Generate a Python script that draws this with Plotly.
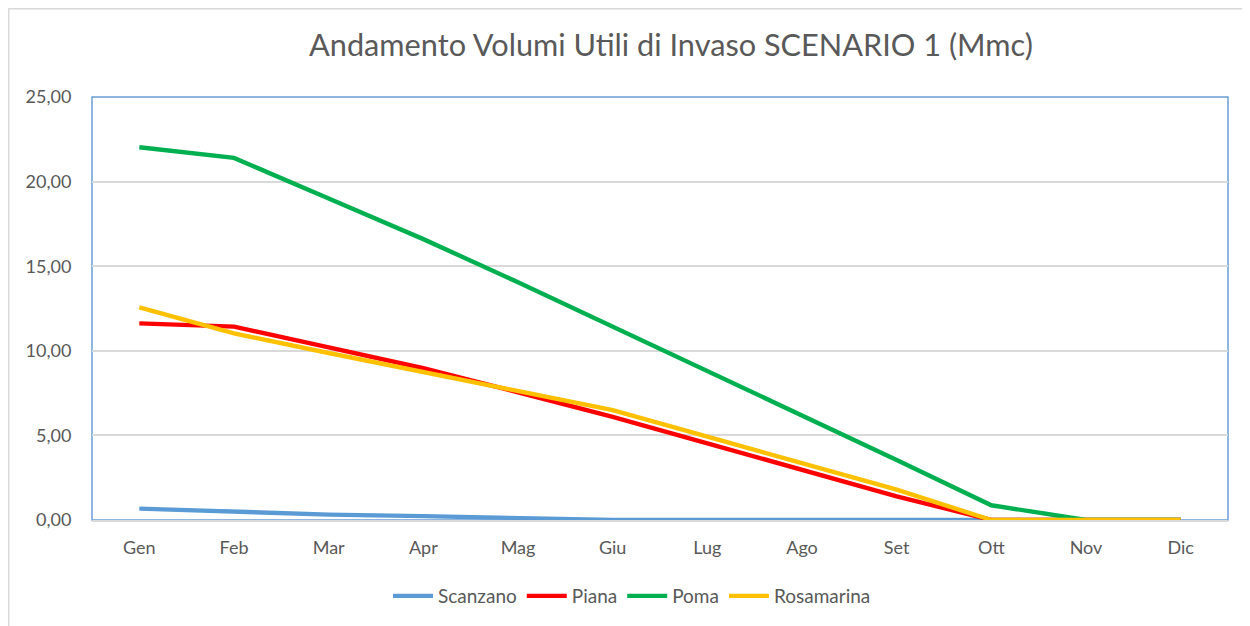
import plotly.graph_objects as go

months = ["Gen", "Feb", "Mar", "Apr", "Mag", "Giu", "Lug", "Ago", "Set", "Ott", "Nov", "Dic"]
scanzano = [0.67, 0.47, 0.32, 0.23, 0.10, 0.0, 0.0, 0.0, 0.0, 0.0, 0.0, 0.0]
piana = [11.62, 11.43, 10.2, 8.97, 7.55, 6.1, 4.53, 2.96, 1.40, 0.0, 0.0, 0.0]
poma = [22.03, 21.4, 19.0, 16.6, 14.05, 11.43, 8.78, 6.12, 3.55, 0.87, 0.0, 0.0]
rosamarina = [12.57, 11.03, 9.87, 8.75, 7.62, 6.5, 4.93, 3.36, 1.79, 0.0, 0.0, 0.0]
yticks = [0, 5, 10, 15, 20, 25]

series = [
    ("Scanzano", scanzano, "#5B9BD5"),
    ("Piana", piana, "#FF0000"),
    ("Poma", poma, "#00B050"),
    ("Rosamarina", rosamarina, "#FFC000"),
]

# page is offset by the browser's 8px body margin
W, H = 1242, 618
L, T, R, B = 84, 89, 22, 106
PW = W - L - R
PH = H - T - B

fig = go.Figure()
for name, vals, col in series:
    fig.add_trace(go.Scatter(x=months, y=vals, name=name, mode="lines",
                             line=dict(color=col, width=4.4)))

fig.update_layout(
    width=W, height=H,
    paper_bgcolor="white", plot_bgcolor="white",
    margin=dict(l=L, r=R, t=T, b=B),
    separators=",.",
    font=dict(family="Lato, Calibri, sans-serif", color="#595959", size=18),
    title=dict(text="Andamento Volumi Utili di Invaso SCENARIO 1 (Mmc)",
               x=663 / W, xref="container", xanchor="center",
               y=1 - 37 / H, yref="container", yanchor="middle",
               font=dict(size=30.7, color="#595959")),
    legend=dict(orientation="h", xref="container", yref="container",
                x=624 / W, xanchor="center", y=(H - 588) / H, yanchor="middle",
                font=dict(size=19, color="#595959"), itemwidth=40,
                traceorder="normal"),
    showlegend=True,
)
fig.update_xaxes(range=[-0.5, 11.5], showgrid=False, showline=True,
                 linecolor="#D9D9D9", linewidth=2,
                 ticks="outside", ticklen=10, tickcolor="rgba(0,0,0,0)",
                 tickfont=dict(size=18), zeroline=False, fixedrange=True)
fig.update_yaxes(range=[0, 25], tickvals=yticks, tickformat=".2f",
                 showgrid=True, gridcolor="#D9D9D9", gridwidth=1.5,
                 zeroline=False, showline=False,
                 ticks="outside", ticklen=16, tickcolor="rgba(0,0,0,0)",
                 tickfont=dict(size=18), fixedrange=True)

# plot area border (blue) and outer chart border (gray)
fig.add_shape(type="rect", xref="paper", yref="paper", x0=0, x1=1, y0=0, y1=1,
              line=dict(color="#6A9FD8", width=1.5), layer="below")
fig.add_shape(type="rect", xref="paper", yref="paper",
              x0=(0.5 - L) / PW, x1=(W + 20 - L) / PW,
              y0=-(B + 20) / PH, y1=(PH + T - 0.5) / PH,
              line=dict(color="#D9D9D9", width=2), layer="below")

fig.write_html("out.html")
